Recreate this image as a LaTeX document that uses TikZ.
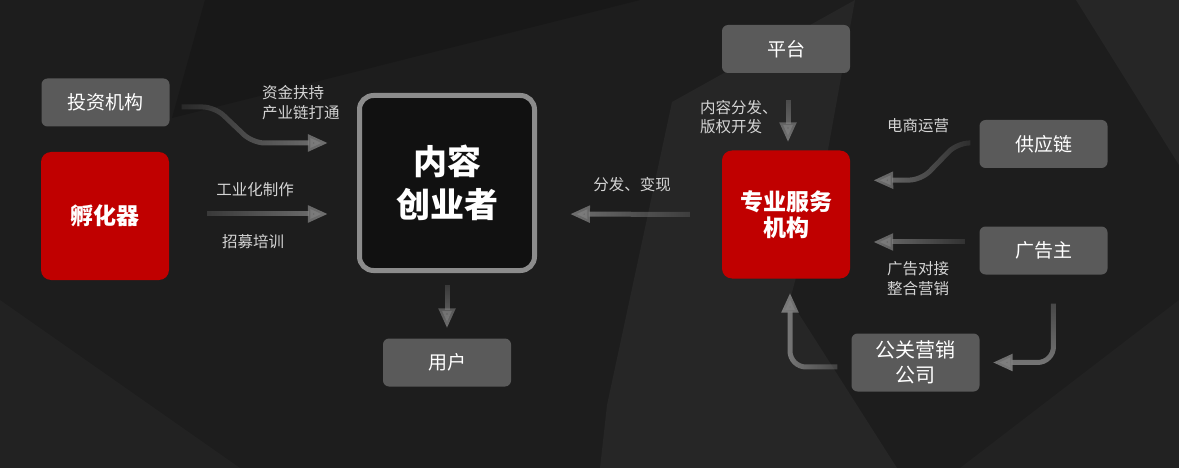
\documentclass[tikz,border=0pt]{standalone}
\usepackage{fontspec}
\setmainfont{Noto Sans CJK SC}
\usetikzlibrary{arrows.meta,fadings}
\definecolor{bgdark}{RGB}{29,29,29}
\definecolor{bgpanel}{RGB}{38,38,38}
\definecolor{bgdeep}{RGB}{24,24,24}
\definecolor{boxgray}{RGB}{90,90,90}
\definecolor{boxred}{RGB}{192,0,0}
\definecolor{hubgray}{RGB}{140,140,140}
\definecolor{flowgray}{RGB}{128,128,128}
\definecolor{notegray}{RGB}{212,212,212}

\tikzfading[name=toE, left color=transparent!90, right color=transparent!0]
\tikzfading[name=toW, left color=transparent!0, right color=transparent!90]
\tikzfading[name=toS, top color=transparent!90, bottom color=transparent!0]

\begin{document}
\begin{tikzpicture}[x=1pt,y=-1pt,
    graybox/.style={fill=boxgray, rounded corners=6pt, minimum width=128pt, minimum height=48pt,
      inner sep=0pt, text=white, align=center, font=\fontsize{19}{25}\selectfont},
    redbox/.style={fill=boxred, rounded corners=10pt, minimum width=128pt, minimum height=128pt,
      text=white, align=center, font=\fontsize{23}{26}\bfseries\selectfont},
    hubbox/.style={draw=hubgray, line width=5pt, fill=bgdeep!70!black, rounded corners=14pt, minimum size=175pt,
      text=white, align=center, font=\fontsize{34}{43}\bfseries\selectfont},
    note/.style={text=notegray, inner sep=0pt, align=left, font=\fontsize{15.5}{19.5}\selectfont},
    flow/.style={draw=flowgray, line width=5pt, rounded corners=12pt, -{Triangle[width=16pt,length=20pt]}},
    flat/.style={fading transform={yscale=5}},
    tall/.style={fading transform={xscale=5}}]
  \useasboundingbox (0,0) rectangle (1179,468);
  % background
  \fill[bgdark] (0,0) rectangle (1179,468);
  \fill[bgdeep] (205,0) -- (640,0) -- (172,118) -- cycle;
  \fill[bgpanel] (855,0) -- (824,172) -- (790,300) -- (897,468) -- (600,468) -- (607,405) -- (672,102) -- cycle;
  \fill[bgpanel] (1076,0) -- (1179,0) -- (1179,165) -- cycle;
  \fill[bgpanel!60!bgdark] (960,468) -- (1179,300) -- (1179,468) -- cycle;
  \fill[bgpanel!60!bgdark] (0,300) -- (240,468) -- (0,468) -- cycle;

  % boxes
  \node[graybox] (inv) at (105.5,102.5) {投资机构};
  \node[redbox] (inc) at (105,216) {孵化器};
  \node[hubbox] (hub) at (447,183) {内容\\创业者};
  \node[graybox] (user) at (447,362.5) {用户};
  \node[graybox] (plat) at (786,49) {平台};
  \node[redbox] (svc) at (786,214.5) {专业服务\\机构};
  \node[graybox] (sup) at (1043.5,144) {供应链};
  \node[graybox] (adv) at (1043.5,250.5) {广告主};
  \node[graybox, minimum height=58pt, font=\fontsize{20}{25}\selectfont] (pr) at (915.5,362.5) {公关营销\\公司};

  % labels
  \node[note, anchor=west] (fund) at (262,102.5) {资金扶持\\产业链打通};
  \node[note] (craft) at (255,190) {工业化制作};
  \node[note] (train) at (253,242) {招募培训};
  \node[note] (dist) at (632,185) {分发、变现};
  \node[note, anchor=west] (rights) at (700,117) {内容分发、\\版权开发};
  \node[note] (ecom) at (918,126) {电商运营};
  \node[note] (admk) at (918,278.5) {广告对接\\整合营销};

  % flows
  \draw[flow, path fading=toE, fading transform={yscale=1.6}, shorten <=12pt, shorten >=29pt] ([yshift=-4.5pt]inv.east) -- ++(45,0) -- ++(38,36) -- ([yshift=40pt]hub.west);
  \draw[flow, path fading=toE, flat, shorten <=38pt, shorten >=29pt] ([yshift=2pt]inc.east) -- ([yshift=-31pt]hub.west);
  \draw[flow, path fading=toS, tall, shorten <=12pt, shorten >=10pt] (hub.south) -- (user.north);
  \draw[flow, path fading=toW, flat, shorten <=32pt, shorten >=33pt] (svc.west) -- ([yshift=-31pt]hub.east);
  \draw[flow, path fading=toS, tall, shorten <=27pt, shorten >=8pt] ([xshift=2pt]plat.south) -- ([xshift=2pt]svc.north);
  \draw[flow, path fading=toW, fading transform={yscale=1.6}, shorten <=9pt, shorten >=23pt] ([yshift=1pt]sup.west) -- ++(-22,0) -- ++(-36,37) -- ([yshift=34pt]svc.east);
  \draw[flow, path fading=toW, flat, shorten <=14pt, shorten >=23pt] ([yshift=8.5pt]adv.west) -- ([yshift=-27.5pt]svc.east);
  \draw[flow, path fading=toS, fading transform={scale=1.3}, rounded corners=16pt, shorten <=29pt, shorten >=13pt] ([xshift=10pt]adv.south) |- (pr.east);
  \draw[flow, path fading=toW, fading transform={xscale=1.3,yscale=1.2}, rounded corners=16pt, shorten <=14pt, shorten >=14pt] ([yshift=-4.5pt]pr.west) -| ([xshift=4pt]svc.south);
\end{tikzpicture}
\end{document}
